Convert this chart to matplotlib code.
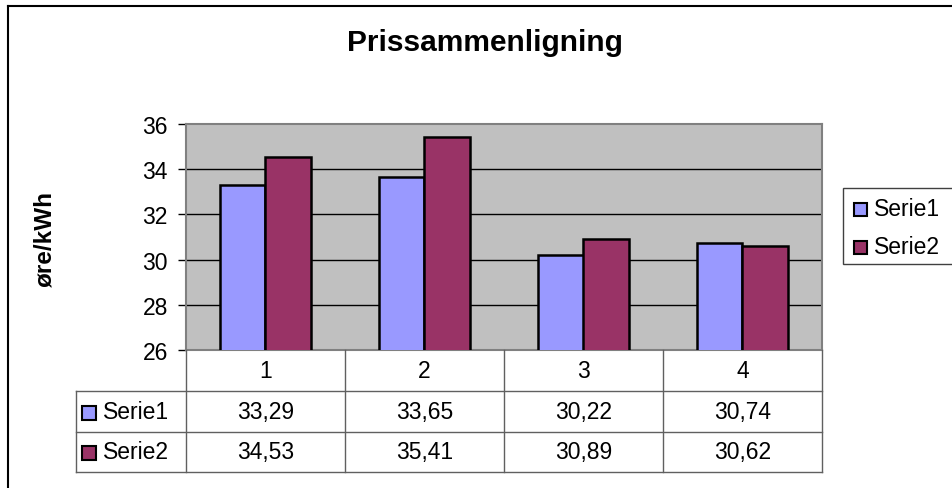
import matplotlib
matplotlib.use("Agg")
import matplotlib.pyplot as plt
import numpy as np
from matplotlib.lines import Line2D
from matplotlib.patches import Rectangle
import matplotlib.transforms as mtransforms

plt.rcParams['font.family'] = ['Liberation Sans', 'DejaVu Sans']

categories = ["1", "2", "3", "4"]
serie1 = [33.29, 33.65, 30.22, 30.74]
serie2 = [34.53, 35.41, 30.89, 30.62]
series_names = ["Serie1", "Serie2"]
yticks = [26, 28, 30, 32, 34, 36]
title = "Prissammenligning"
ylabel = "øre/kWh"

C1 = "#9999FF"
C2 = "#993366"
FS = 16.5

W, H = 953, 489
fig = plt.figure(figsize=(W / 100, H / 100), dpi=100)
fig.patch.set_facecolor("white")

def fx(px):
    return px / W

def fy(py):
    return 1 - py / H

# outer chart border (left & top visible)
fig.add_artist(Line2D([fx(8), fx(8)], [fy(7), fy(H + 5)], color="black", lw=1.5, transform=fig.transFigure))
fig.add_artist(Line2D([fx(8), fx(W + 5)], [fy(7), fy(7)], color="black", lw=1.5, transform=fig.transFigure))

L, R, T, B = 186, 822, 125, 351
ax = fig.add_axes([fx(L), fy(B), fx(R) - fx(L), fy(T) - fy(B)])
ax.set_facecolor("#C0C0C0")
x = np.arange(1, len(categories) + 1)
bw = 0.286
ax.bar(x - bw / 2, serie1, bw, bottom=0, color=C1, edgecolor="black", linewidth=1.8, zorder=3)
ax.bar(x + bw / 2, serie2, bw, bottom=0, color=C2, edgecolor="black", linewidth=1.8, zorder=3)
ax.set_xlim(0.5, len(categories) + 0.5)
ax.set_ylim(yticks[0], yticks[-1])
ax.set_yticks(yticks)
ax.set_yticklabels([str(t) for t in yticks], fontsize=FS)
ax.tick_params(axis="y", length=6, width=1, direction="out", color="black", pad=7)
ax.set_xticks([])
for yv in yticks[1:-1]:
    ax.axhline(yv, color="black", lw=1, zorder=1)
for s in ["top", "right", "bottom", "left"]:
    ax.spines[s].set_color("#808080")
    ax.spines[s].set_linewidth(1.5)

fig.text(fx(485), fy(51), title, ha="center", va="baseline", fontsize=21.5, fontweight="bold")
fig.text(fx(45), fy(239), ylabel, ha="center", va="center", rotation=90, fontsize=17.5, fontweight="bold")

# Legend (drawn as a boxed key)
fig.add_artist(Rectangle((fx(843), fy(265)), fx(W + 5) - fx(843), fy(189) - fy(265),
                         facecolor="white", edgecolor="#404040", lw=1, transform=fig.transFigure))
for name, col, yc in zip(series_names, [C1, C2], [210, 248]):
    fig.add_artist(Rectangle((fx(854), fy(yc + 6.5)), fx(13), fy(yc - 6.5) - fy(yc + 6.5),
                             facecolor=col, edgecolor="black", lw=1.5, transform=fig.transFigure))
    fig.text(fx(874), fy(yc), name, ha="left", va="center", fontsize=FS)

# Data table
tr = mtransforms.blended_transform_factory(ax.transData, fig.transFigure)
lc = "#606060"
row_y = [351, 392, 433, 473]
for i in range(len(categories) + 1):
    xv = 0.5 + i
    fig.add_artist(Line2D([xv, xv], [fy(row_y[0]), fy(row_y[3])], color=lc, lw=1, transform=tr))
for ry in row_y[1:]:
    fig.add_artist(Line2D([fx(76), fx(R)], [fy(ry), fy(ry)], color=lc, lw=1, transform=fig.transFigure))
fig.add_artist(Line2D([fx(76), fx(76)], [fy(row_y[1]), fy(row_y[3])], color=lc, lw=1, transform=fig.transFigure))

for xi, c in zip(x, categories):
    fig.text(xi, fy((row_y[0] + row_y[1]) / 2), c, ha="center", va="center", fontsize=FS, transform=tr)

def fmt(v):
    return f"{v:.2f}".replace(".", ",")

for r, (name, vals, col) in enumerate(zip(series_names, [serie1, serie2], [C1, C2])):
    yc = (row_y[r + 1] + row_y[r + 2]) / 2
    fig.add_artist(Rectangle((fx(82), fy(yc + 8)), fx(14), fy(yc - 6) - fy(yc + 8),
                             facecolor=col, edgecolor="black", lw=1.5, transform=fig.transFigure))
    fig.text(fx(103), fy(yc), name, ha="left", va="center", fontsize=FS)
    for xi, v in zip(x, vals):
        fig.text(xi, fy(yc), fmt(v), ha="center", va="center", fontsize=FS, transform=tr)

fig.savefig("out.png", dpi=100)
